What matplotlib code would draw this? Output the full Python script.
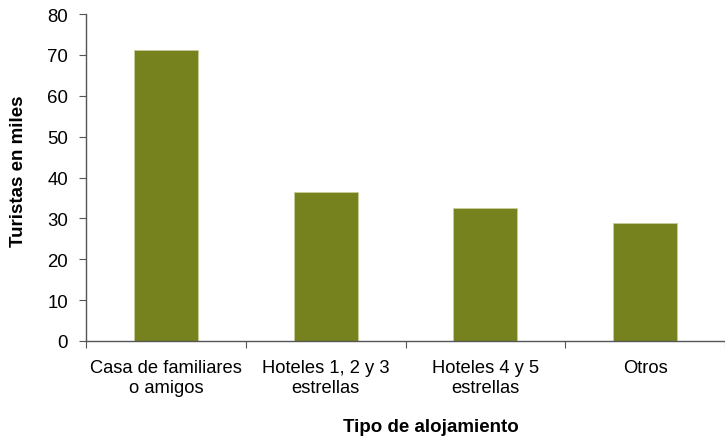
import matplotlib
matplotlib.use("Agg")
import matplotlib.pyplot as plt

categories = ["Casa de familiares\no amigos", "Hoteles 1, 2 y 3\nestrellas", "Hoteles 4 y 5\nestrellas", "Otros"]
values = [71.2, 36.4, 32.6, 28.8]
yticks = [0, 10, 20, 30, 40, 50, 60, 70, 80]

plt.rcParams['font.family'] = ['Liberation Sans', 'DejaVu Sans']

fig = plt.figure(figsize=(7.25, 4.39), dpi=100)
ax = fig.add_axes([86/725, 1-342/439, 1-86/725, (342-15)/439])

x = list(range(len(categories)))
ax.bar(x, values, width=0.4, color='#76821e', edgecolor='#c8cc9a', linewidth=0.6)

ax.set_ylim(0, 80)
ax.set_yticks(yticks)
ax.set_xlim(-0.5, -0.5 + 639/161.5)
ax.set_xticks([i + 0.5 for i in range(-1, 4)], minor=False)
ax.set_xticklabels([])
ax.set_xticks(x, minor=True)
ax.set_xticklabels(categories, minor=True, linespacing=1.25)
ax.tick_params(axis='x', which='minor', length=0, pad=13, labelsize=13.2)
ax.tick_params(axis='x', which='major', length=5, direction='out', color='#555555')
ax.tick_params(axis='y', length=5, direction='out', color='#555555', labelsize=13.4, pad=8)

for s in ['top', 'right']:
    ax.spines[s].set_visible(False)
for s in ['left', 'bottom']:
    ax.spines[s].set_color('#555555')
    ax.spines[s].set_linewidth(1.0)

fig.text(19/725, 1-171/439, "Turistas en miles", rotation=90, ha='center', va='center',
         fontsize=13.5, fontweight='bold')
fig.text(431/725, 1-428/439, "Tipo de alojamiento", ha='center', va='center',
         fontsize=13.5, fontweight='bold')

fig.savefig("out.png", dpi=100)
